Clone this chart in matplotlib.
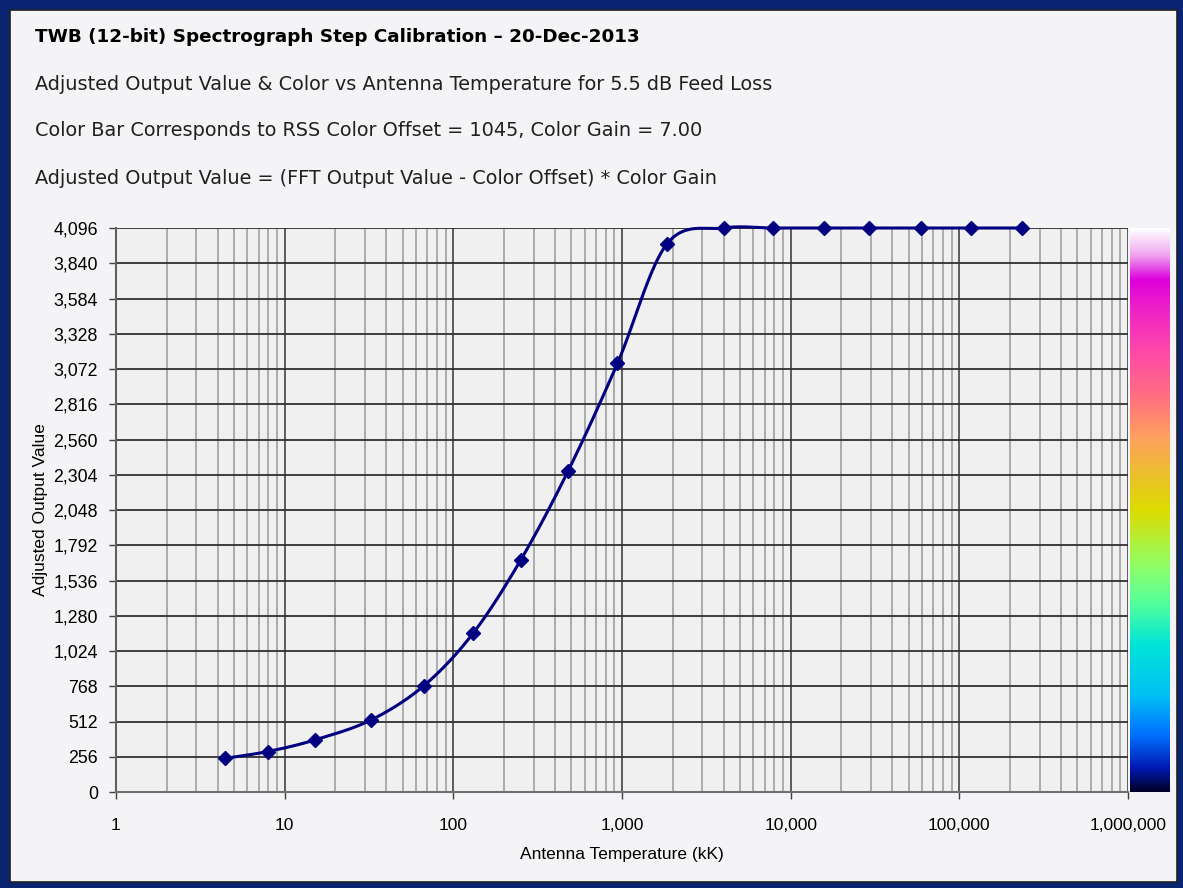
import numpy as np
import matplotlib.pyplot as plt
from matplotlib import rcParams
from matplotlib.colors import LinearSegmentedColormap
from matplotlib.patches import Rectangle
from matplotlib.ticker import FixedLocator, FuncFormatter, LogLocator, NullFormatter

rcParams["font.family"] = ["DejaVu Sans"]
rcParams["font.sans-serif"] = ["DejaVu Sans"]
NAVY = "#000080"
PANEL = "#f4f4f6"
PLOTBG = "#f0f0f0"

# antenna temperature (kK) and adjusted output value
temp_kk = [4.45, 7.95, 15.1, 32.5, 66.9, 131, 251, 479, 940, 1846,
           4000, 7890, 15660, 29100, 59000, 118000, 236000]
out_val = [245, 294, 378, 523, 772, 1153, 1685, 2331, 3113, 3980,
           4096, 4096, 4096, 4096, 4096, 4096, 4096]

y_ticks = [0, 256, 512, 768, 1024, 1280, 1536, 1792, 2048, 2304, 2560,
           2816, 3072, 3328, 3584, 3840, 4096]
x_ticks = [1, 10, 100, 1000, 10000, 100000, 1000000]

# colour bar stops (fraction of 0..4096, colour)
cbar_pos = [0.0, 0.04, 0.10, 0.17, 0.26, 0.33, 0.40, 0.50, 0.58, 0.63,
            0.70, 0.78, 0.86, 0.91, 0.955, 1.0]
cbar_col = ["#000028", "#0018b0", "#0070ff", "#00c0f4", "#00e4d8", "#50ffa0",
            "#90ff68", "#dcdc00", "#f0b838", "#ffa060", "#ff7080", "#ff4aa8",
            "#ee20c8", "#dc00dc", "#f0a8f0", "#ffffff"]

W, H = 11.83, 8.88
fig = plt.figure(figsize=(W, H), dpi=100)
fig.patch.set_facecolor("#0a2472")
panel = Rectangle((10/1183, 6/888), 1167/1183, 872/888, transform=fig.transFigure,
                  facecolor=PANEL, edgecolor="#202020", lw=1.2, zorder=-10)
fig.add_artist(panel)

ax_l, ax_r, ax_b, ax_t = 116/1183, 1128/1183, (888-792)/888, (888-228)/888
ax = fig.add_axes([ax_l, ax_b, ax_r-ax_l, ax_t-ax_b])
ax.set_facecolor(PLOTBG)
ax.set_xscale("log")
ax.set_xlim(1, 1e6)
ax.set_ylim(0, 4096)

# Excel-style smoothed line: Catmull-Rom bezier in screen space
pw, ph = 1012.0, 564.0
P = np.column_stack([np.log10(temp_kk)*pw/6, np.array(out_val)*ph/4096])
Pp = np.vstack([P[0], P, P[-1]])
curve = []
t = np.linspace(0, 1, 40)[:, None]
for i in range(len(P)-1):
    p0, p1, p2, p3 = Pp[i], Pp[i+1], Pp[i+2], Pp[i+3]
    c1 = p1 + (p2-p0)/6
    c2 = p2 - (p3-p1)/6
    seg = (1-t)**3*p1 + 3*(1-t)**2*t*c1 + 3*(1-t)*t**2*c2 + t**3*p2
    curve.append(seg)
curve = np.vstack(curve)
cx = 10**(curve[:, 0]*6/pw)
cy = curve[:, 1]*4096/ph
ax.plot(cx, cy, color=NAVY, lw=2.2, zorder=4, clip_on=False)
ax.plot(temp_kk, out_val, ls="none", marker="D", ms=7.5, color=NAVY, zorder=5, clip_on=False)

ax.yaxis.set_major_locator(FixedLocator(y_ticks))
ax.yaxis.set_major_formatter(FuncFormatter(lambda v, p: f"{int(v):,}"))
ax.xaxis.set_major_locator(FixedLocator(x_ticks))
ax.xaxis.set_major_formatter(FuncFormatter(lambda v, p: f"{int(round(v)):,}"))
ax.xaxis.set_minor_locator(LogLocator(base=10, subs=np.arange(2, 10), numticks=20))
ax.xaxis.set_minor_formatter(NullFormatter())

ax.grid(which="major", axis="y", color="#303030", lw=1.3, zorder=1)
ax.grid(which="major", axis="x", color="#505050", lw=1.3, zorder=1)
ax.grid(which="minor", axis="x", color="#a0a0a0", lw=1.2, zorder=1)
ax.set_axisbelow(True)

for s in ["top", "right"]:
    ax.spines[s].set_visible(False)
ax.spines["left"].set_color("#606060")
ax.spines["bottom"].set_color("#707070")
ax.spines["left"].set_linewidth(1.5)
ax.spines["bottom"].set_linewidth(1.5)

ax.tick_params(axis="y", which="major", length=5, width=1, color="#404040", pad=8, labelsize=12.8)
ax.tick_params(axis="x", which="major", length=5, width=1, color="#404040", pad=14, labelsize=12.5)
ax.tick_params(axis="x", which="minor", length=0)
for lab in ax.get_xticklabels() + ax.get_yticklabels():
    lab.set_fontfamily("Liberation Sans")

ax.set_xlabel("Antenna Temperature (kK)", fontsize=12.5, family="Liberation Sans", labelpad=10)
ax.set_ylabel("Adjusted Output Value", fontsize=12.5, family="Liberation Sans", labelpad=4)

# colour bar
cmap = LinearSegmentedColormap.from_list("rss", list(zip(cbar_pos, cbar_col)))
cax = fig.add_axes([1130/1183, ax_b, 40/1183, ax_t-ax_b])
cax.imshow(np.linspace(0, 1, 512)[:, None], aspect="auto", cmap=cmap, origin="lower",
           extent=[0, 1, 0, 4096])
cax.set_axis_off()

fig.text(35/1183, 1-37/888, "TWB (12-bit) Spectrograph Step Calibration \u2013 20-Dec-2013",
         fontsize=13.2, fontweight="bold", va="center", ha="left", family="DejaVu Sans")
fig.text(35/1183, 1-85/888, "Adjusted Output Value & Color vs Antenna Temperature for 5.5 dB Feed Loss",
         fontsize=13.9, va="center", ha="left", color="#202020", family="DejaVu Sans")
fig.text(35/1183, 1-131/888, "Color Bar Corresponds to RSS Color Offset = 1045, Color Gain = 7.00",
         fontsize=13.9, va="center", ha="left", color="#202020", family="DejaVu Sans")
fig.text(35/1183, 1-178/888, "Adjusted Output Value = (FFT Output Value - Color Offset) * Color Gain",
         fontsize=13.9, va="center", ha="left", color="#202020", family="DejaVu Sans")

fig.savefig("out.png", dpi=100, facecolor=fig.get_facecolor())
